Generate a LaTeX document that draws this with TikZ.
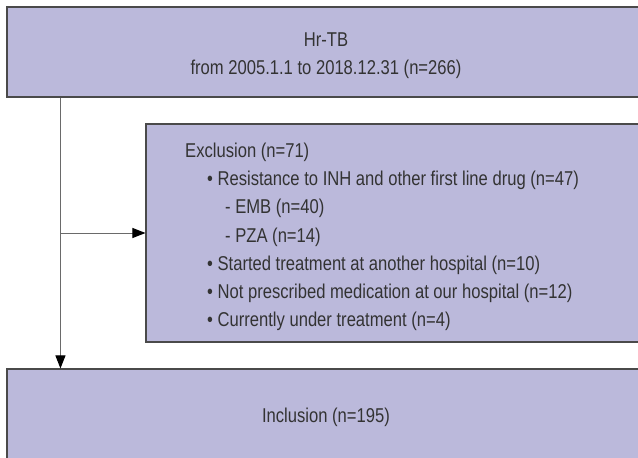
\documentclass[tikz,border=0pt]{standalone}
\usepackage{fontspec}
\setmainfont{Liberation Sans}[FakeStretch=0.83]
\usetikzlibrary{arrows.meta}
\definecolor{boxfill}{HTML}{BBB9DB}
\definecolor{boxline}{HTML}{4A4A4A}
\definecolor{txt}{HTML}{333333}
\definecolor{conn}{HTML}{6A6A6A}
\tikzset{
  box/.style={draw=boxline, fill=boxfill, line width=1.1pt, inner sep=0pt},
  lbl/.style={text=txt, inner sep=0pt, font=\fontsize{20}{28.3}\selectfont},
  connline/.style={draw=conn, line width=1pt},
  arr/.style={connline, -{Triangle[length=13pt,width=10pt,color=black,fill=black]}}
}
\begin{document}
\begin{tikzpicture}[x=1pt,y=-1pt]
\useasboundingbox (0,0) rectangle (638,458);
\clip (0,0) rectangle (638,458);
\fill[white] (0,0) rectangle (638,458);
% boxes
\node[box, minimum width=653pt, minimum height=90pt] (top) at (333.5,52) {};
\node[box, minimum width=514pt, minimum height=218pt] (excl) at (403,233) {};
\node[box, minimum width=653pt, minimum height=111pt] (incl) at (333.5,424.5) {};
% top text
\node[lbl, anchor=base] (t1) at (326,46) {Hr-TB};
\node[lbl, anchor=base] (t2) at (326,74) {from 2005.1.1 to 2018.12.31 (n=266)};
% exclusion text
\node[lbl, anchor=base west] (e0) at (185,157) {Exclusion (n=71)};
\node[lbl, anchor=base west] (e1) at (207,185.3) {\textbullet\ Resistance to INH and other first line drug (n=47)};
\node[lbl, anchor=base west] (e2) at (225,213.6) {- EMB (n=40)};
\node[lbl, anchor=base west] (e3) at (225,242) {- PZA (n=14)};
\node[lbl, anchor=base west] (e4) at (207,270.2) {\textbullet\ Started treatment at another hospital (n=10)};
\node[lbl, anchor=base west] (e5) at (207,298.5) {\textbullet\ Not prescribed medication at our hospital (n=12)};
\node[lbl, anchor=base west] (e6) at (207,326.8) {\textbullet\ Currently under treatment (n=4)};
% inclusion text
\node[lbl, anchor=base] (i1) at (326,422) {Inclusion (n=195)};
% connectors
\coordinate (vx) at ([xshift=54pt]top.south west);
\draw[arr] (vx) -- (vx |- incl.north);
\draw[arr] (vx |- excl.west) -- (excl.west);
\end{tikzpicture}
\end{document}
